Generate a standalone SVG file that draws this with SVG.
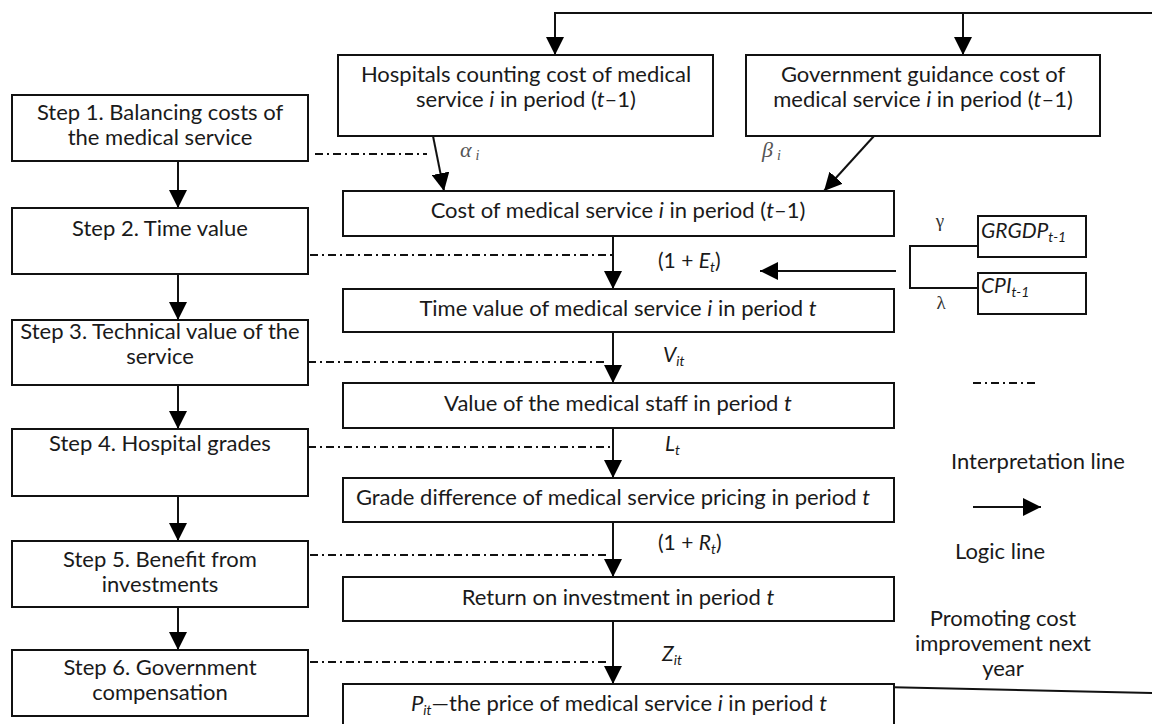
<svg xmlns="http://www.w3.org/2000/svg" width="1152" height="724" viewBox="0 0 1152 724">
<defs>
<marker id="ah" markerWidth="18" markerHeight="18" refX="18" refY="9" orient="auto" markerUnits="userSpaceOnUse">
<path d="M0,0 L18,9 L0,18 Z" fill="#000"/>
</marker>
<style>
.box{fill:#fff;stroke:#111;stroke-width:2}
.ln{fill:none;stroke:#111;stroke-width:2}
.ar{fill:none;stroke:#111;stroke-width:2;marker-end:url(#ah)}
.dd{fill:none;stroke:#111;stroke-width:2;stroke-dasharray:8 4 2 4}
.t{font-family:Lato,"Liberation Sans",sans-serif;font-size:22px;fill:#1a1a1a;text-anchor:middle}
.l{font-family:Lato,"Liberation Sans",sans-serif;font-size:21px;fill:#1a1a1a}
.b{font-family:Lato,"Liberation Sans",sans-serif;font-size:21px;fill:#1a1a1a;font-style:italic}
.g{font-family:"Liberation Serif",serif;font-size:22px;font-style:italic;fill:#555}
.gs{font-family:"Liberation Serif",serif;font-size:19px;fill:#333;text-anchor:middle}
.i{font-style:italic}
.s{font-size:14px}
</style>
</defs>

<g id="connectors">
<polyline class="ln" points="1152,13 555,13 555,36"/>
<line class="ar" x1="555" y1="13" x2="555" y2="55"/>
<line class="ar" x1="963" y1="13" x2="963" y2="55"/>
<line class="ar" x1="433" y1="136" x2="444" y2="191"/>
<line class="ar" x1="874" y1="136" x2="824" y2="191"/>
<line class="ar" x1="178" y1="161" x2="178" y2="208"/>
<line class="ar" x1="178" y1="274" x2="178" y2="320"/>
<line class="ar" x1="178" y1="385" x2="178" y2="429"/>
<line class="ar" x1="178" y1="496" x2="178" y2="541"/>
<line class="ar" x1="178" y1="607" x2="178" y2="650"/>
<line class="ar" x1="613" y1="236" x2="613" y2="289"/>
<line class="ar" x1="613" y1="332" x2="613" y2="383"/>
<line class="ar" x1="613" y1="428" x2="613" y2="478"/>
<line class="ar" x1="613" y1="522" x2="613" y2="577"/>
<line class="ar" x1="613" y1="621" x2="613" y2="684"/>
<line class="dd" x1="315" y1="154" x2="427" y2="154"/>
<line class="dd" x1="310" y1="255" x2="612" y2="255"/>
<line class="dd" x1="308" y1="362" x2="605" y2="362"/>
<line class="dd" x1="308" y1="447" x2="612" y2="447"/>
<line class="dd" x1="310" y1="555" x2="608" y2="555"/>
<line class="dd" x1="310" y1="662" x2="608" y2="662"/>
<polyline class="ln" points="978,246 910,246 910,288 978,288"/>
<line class="ar" x1="896" y1="271" x2="760" y2="271"/>
<line class="ln" x1="882" y1="687" x2="1152" y2="693"/>
</g>

<g id="step1"><rect class="box" x="12" y="95" width="296" height="66"/>
<text class="t" x="160" y="120">Step 1. Balancing costs of</text>
<text class="t" x="160" y="145">the medical service</text></g>
<g id="step2"><rect class="box" x="12" y="208" width="296" height="66"/>
<text class="t" x="160" y="236">Step 2. Time value</text></g>
<g id="step3"><rect class="box" x="12" y="320" width="296" height="65"/>
<text class="t" x="160" y="339">Step 3. Technical value of the</text>
<text class="t" x="160" y="364">service</text></g>
<g id="step4"><rect class="box" x="12" y="429" width="296" height="67"/>
<text class="t" x="160" y="451">Step 4. Hospital grades</text></g>
<g id="step5"><rect class="box" x="12" y="541" width="296" height="66"/>
<text class="t" x="160" y="567">Step 5. Benefit from</text>
<text class="t" x="160" y="592">investments</text></g>
<g id="step6"><rect class="box" x="12" y="650" width="296" height="66"/>
<text class="t" x="160" y="675">Step 6. Government</text>
<text class="t" x="160" y="700">compensation</text></g>

<g id="hospitals"><rect class="box" x="338" y="55" width="375" height="81"/>
<text class="t" x="526" y="82">Hospitals counting cost of medical</text>
<text class="t" x="526" y="107">service <tspan class="i">i</tspan> in period (<tspan class="i">t</tspan>–1)</text></g>
<g id="government"><rect class="box" x="746" y="55" width="354" height="81"/>
<text class="t" x="923" y="82">Government guidance cost of</text>
<text class="t" x="923" y="107">medical service <tspan class="i">i</tspan> in period (<tspan class="i">t</tspan>–1)</text></g>

<g id="cost"><rect class="box" x="343" y="191" width="551" height="45"/>
<text class="t" x="618" y="218">Cost of medical service <tspan class="i">i</tspan> in period (<tspan class="i">t</tspan>–1)</text></g>
<g id="timevalue"><rect class="box" x="343" y="289" width="551" height="43"/>
<text class="t" x="618" y="316">Time value of medical service <tspan class="i">i</tspan> in period <tspan class="i">t</tspan></text></g>
<g id="staff"><rect class="box" x="343" y="383" width="551" height="45"/>
<text class="t" x="618" y="411">Value of the medical staff in period <tspan class="i">t</tspan></text></g>
<g id="grade"><rect class="box" x="343" y="478" width="551" height="44"/>
<text class="t" x="613" y="505">Grade difference of medical service pricing in period <tspan class="i">t</tspan></text></g>
<g id="roi"><rect class="box" x="343" y="577" width="551" height="44"/>
<text class="t" x="618" y="605">Return on investment in period <tspan class="i">t</tspan></text></g>
<g id="price"><rect class="box" x="343" y="684" width="551" height="60"/>
<text class="t" x="619" y="711"><tspan class="i">P</tspan><tspan class="i s" dy="4">it</tspan><tspan dy="-4">—the price of medical service </tspan><tspan class="i">i</tspan> in period <tspan class="i">t</tspan></text></g>

<g id="grgdp"><rect class="box" x="978" y="216" width="108" height="41"/>
<text class="b" x="981" y="238">GRGDP<tspan class="s" dy="4">t-1</tspan></text></g>
<g id="cpi"><rect class="box" x="978" y="273" width="108" height="41"/>
<text class="b" x="981" y="293">CPI<tspan class="s" dy="4">t-1</tspan></text></g>

<g id="labels">
<text class="g" x="460" y="157">α<tspan class="s" dx="4" dy="3">i</tspan></text>
<text class="g" x="762" y="157">β<tspan class="s" dx="4" dy="3">i</tspan></text>
<text class="gs" x="940" y="227">γ</text>
<text class="gs" x="941" y="309">λ</text>
<text class="l" x="658" y="268">(1 + <tspan class="i">E</tspan><tspan class="i s" dy="4">t</tspan><tspan dy="-4">)</tspan></text>
<text class="l i" x="663" y="362">V<tspan class="s" dy="4">it</tspan></text>
<text class="l i" x="665" y="451">L<tspan class="s" dy="4">t</tspan></text>
<text class="l" x="658" y="550">(1 + <tspan class="i">R</tspan><tspan class="i s" dy="4">t</tspan><tspan dy="-4">)</tspan></text>
<text class="l i" x="662" y="661">Z<tspan class="s" dy="4">it</tspan></text>
</g>

<g id="legend">
<line class="dd" x1="973" y1="383" x2="1036" y2="383"/>
<text class="t" x="1038" y="469">Interpretation line</text>
<line class="ar" x1="973" y1="507" x2="1041" y2="507"/>
<text class="t" x="1000" y="559">Logic line</text>
<text class="t" x="1003" y="626">Promoting cost</text>
<text class="t" x="1003" y="651">improvement next</text>
<text class="t" x="1003" y="676">year</text>
</g>
</svg>
